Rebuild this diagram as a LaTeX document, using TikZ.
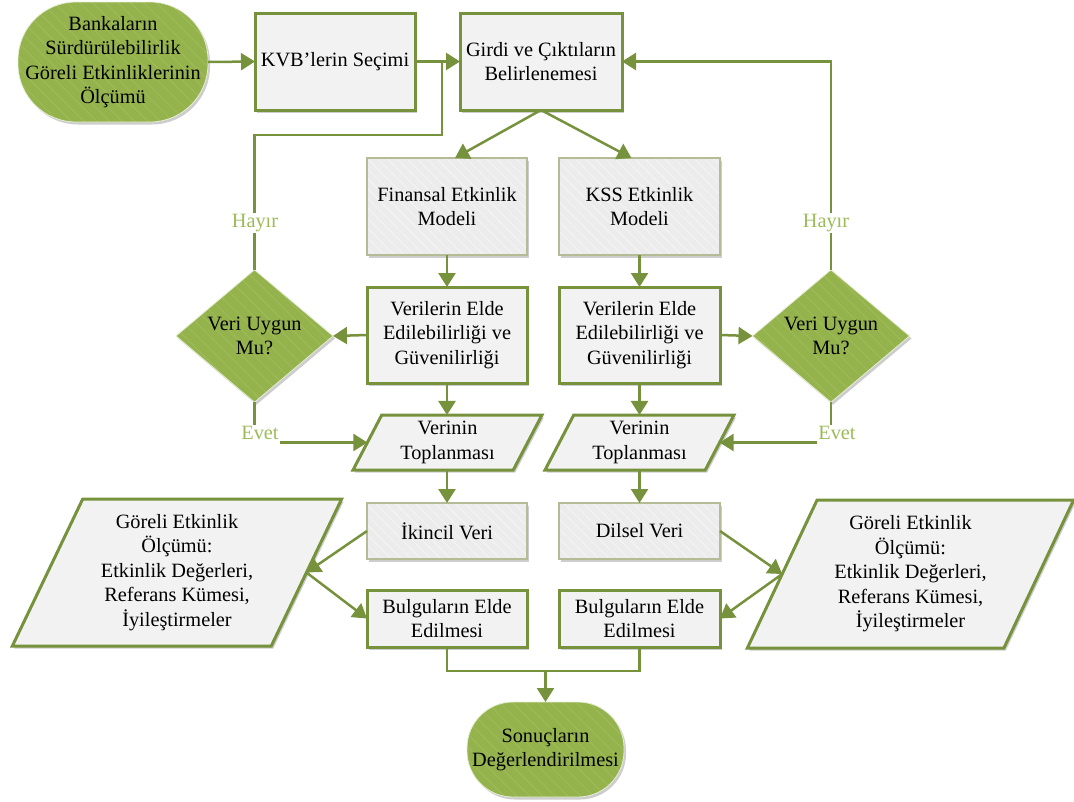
\documentclass[tikz,border=0pt]{standalone}
\usepackage{fontspec}
\setmainfont{Liberation Serif}[Ligatures=TeX]
\usetikzlibrary{shapes.geometric,arrows.meta,shadows,patterns.meta,calc}

\definecolor{lineGreen}{HTML}{76923C}
\definecolor{oliveFill}{HTML}{95B34D}
\definecolor{oliveStripe}{HTML}{9EBB59}
\definecolor{oliveEdge}{HTML}{E4EDD2}
\definecolor{labelGreen}{HTML}{9BBB59}
\definecolor{boxGray}{HTML}{F2F2F2}
\definecolor{hatchGray}{HTML}{ECECEC}
\definecolor{hatchLine}{HTML}{F5F5F5}
\definecolor{hatchBorder}{HTML}{B3BC95}

\tikzset{
  every node/.style={font=\rmfamily\fontsize{20.3}{24.5}\selectfont, align=center,
    text=black, inner sep=0pt, outer sep=0pt},
  softshadow/.style={drop shadow={shadow xshift=2pt, shadow yshift=-2.5pt,
    opacity=0.28, fill=black!70}},
  terminal/.style={softshadow, rectangle, rounded corners=#1, fill=oliveFill,
    postaction={pattern={Lines[angle=-45,distance=9pt,line width=1pt]},
      pattern color=oliveStripe},
    postaction={draw=oliveEdge, line width=0.8pt}},
  procbox/.style={softshadow, rectangle, draw=lineGreen, line width=3pt,
    fill=boxGray, minimum width=160pt, minimum height=97pt},
  hatchbox/.style={softshadow, rectangle, fill=hatchGray,
    minimum width=160pt, minimum height=97pt,
    postaction={pattern={Lines[angle=-45,distance=7pt,line width=0.8pt]},
      pattern color=hatchLine},
    postaction={draw=hatchBorder, line width=1.5pt}},
  decision/.style={softshadow, diamond, fill=oliveFill,
    minimum width=157pt, minimum height=118pt,
    postaction={pattern={Lines[angle=-45,distance=9pt,line width=1pt]},
      pattern color=oliveStripe},
    postaction={draw=oliveEdge, line width=0.8pt}},
  datapara/.style={softshadow, trapezium, trapezium left angle=64,
    trapezium right angle=116, trapezium stretches=true,
    draw=lineGreen, line width=3pt, fill=boxGray},
  branch/.style={text=labelGreen, inner sep=1pt},
  link/.style={draw=lineGreen, line width=2.5pt},
  arrow/.style={link, -{Triangle[length=14pt,width=17pt]}},
}

\begin{document}
\begin{tikzpicture}[x=1pt,y=-1pt]
\useasboundingbox (0,0) rectangle (1074,801);

% top row
\node[terminal=58pt, minimum width=190pt, minimum height=120pt] (start) at (113,62)
  {Bankaların\\Sürdürülebilirlik\\Göreli Etkinliklerinin\\Ölçümü};
\node[procbox] (kvb) at (335,61.5) {KVB’lerin Seçimi};
\node[procbox, minimum width=162pt] (girdi) at (541,61.5)
  {Girdi ve Çıktıların\\Belirlenemesi};

% efficiency models
\node[hatchbox] (fin) at (447,206.5) {Finansal Etkinlik\\Modeli};
\node[hatchbox, minimum width=161pt] (kss) at (639.5,206.5) {KSS Etkinlik\\Modeli};

% data availability and reliability
\node[procbox, minimum height=96pt] (verL) at (447,335)
  {Verilerin Elde\\Edilebilirliği ve\\Güvenilirliği};
\node[procbox, minimum height=96pt, minimum width=161pt] (verR) at (639.5,335)
  {Verilerin Elde\\Edilebilirliği ve\\Güvenilirliği};

% decisions
\node[decision] (dL) at (254.5,336) {Veri Uygun\\Mu?};
\node[decision] (dR) at (831,336) {Veri Uygun\\Mu?};

% data collection
\node[datapara, minimum width=189pt, minimum height=55pt] (colL) at (447.5,442.5)
  {Verinin\\Toplanması};
\node[datapara, minimum width=189pt, minimum height=55pt] (colR) at (639.5,442.5)
  {Verinin\\Toplanması};

% data types
\node[hatchbox, minimum height=56pt] (ik) at (447,531) {İkincil Veri};
\node[hatchbox, minimum height=56pt, minimum width=161pt] (dil) at (639.5,531) {Dilsel Veri};

% relative efficiency results
\node[datapara, minimum width=330pt, minimum height=147pt] (bigL) at (177,572.5)
  {Göreli Etkinlik\\Ölçümü:\\Etkinlik Değerleri,\\Referans Kümesi,\\İyileştirmeler};
\node[datapara, minimum width=327pt, minimum height=148pt] (bigR) at (910.5,574)
  {Göreli Etkinlik\\Ölçümü:\\Etkinlik Değerleri,\\Referans Kümesi,\\İyileştirmeler};

% findings
\node[procbox, minimum height=57pt] (bulL) at (447,618.5) {Bulguların Elde\\Edilmesi};
\node[procbox, minimum height=57pt, minimum width=161pt] (bulR) at (639.5,618.5)
  {Bulguların Elde\\Edilmesi};

% end
\node[terminal=46pt, minimum width=157pt, minimum height=95pt] (end) at (545.5,749.5)
  {Sonuçların\\Değerlendirilmesi};

% branch labels
\node[branch] (hayL) at (255,223) {Hayır};
\node[branch] (hayR) at (826,223) {Hayır};
\node[branch] (evL) at (260,433) {Evet};
\node[branch] (evR) at (837,433) {Evet};

% helper points
\coordinate (tee) at (442,61.5);
\coordinate (bendL) at (442,135);
\coordinate (merge) at (545.5,671);

% main flow
\draw[arrow] (start.east) -- (kvb.west);
\draw[arrow] (kvb.east) -- (girdi.west);
\draw[arrow] (girdi.south) -- ([xshift=8pt]fin.north);
\draw[arrow] (girdi.south) -- ([xshift=-8pt]kss.north);
\draw[arrow] (fin.south) -- (verL.north);
\draw[arrow] (kss.south) -- (verR.north);
\draw[arrow] (verL.west) -- (dL.east);
\draw[arrow] (verR.east) -- (dR.west);
\draw[arrow] (verL.south) -- (verL.south |- colL.north);
\draw[arrow] (verR.south) -- (verR.south |- colR.north);
\draw[arrow] (ik.north |- colL.south) -- (ik.north);
\draw[arrow] (dil.north |- colR.south) -- (dil.north);

% "Hayır" loops back
\draw[link] (dL.north) -- (dL.north |- hayL.south);
\draw[link] (dL.north |- hayL.north) |- (bendL) -- (tee);
\draw[link] (dR.north) -- (dR.north |- hayR.south);
\draw[arrow] (dR.north |- hayR.north) |- (girdi.east);

% "Evet" continues to data collection
\draw[link] (dL.south) -- (dL.south |- evL.north);
\draw[arrow] (evL.east |- colL.west) -- (colL.west);
\draw[link] (dR.south) -- (dR.south |- evR.north);
\draw[arrow] (evR.west |- colR.east) -- (colR.east);

% results
\draw[arrow] (ik.west) -- (bigL.east);
\draw[arrow] (bigL.east) -- (bulL.west);
\draw[arrow] (dil.east) -- (bigR.west);
\draw[arrow] (bigR.west) -- (bulR.east);
\draw[link] (bulL.south) |- (merge) -| (bulR.south);
\draw[arrow] (merge) -- (end.north);
\end{tikzpicture}
\end{document}
